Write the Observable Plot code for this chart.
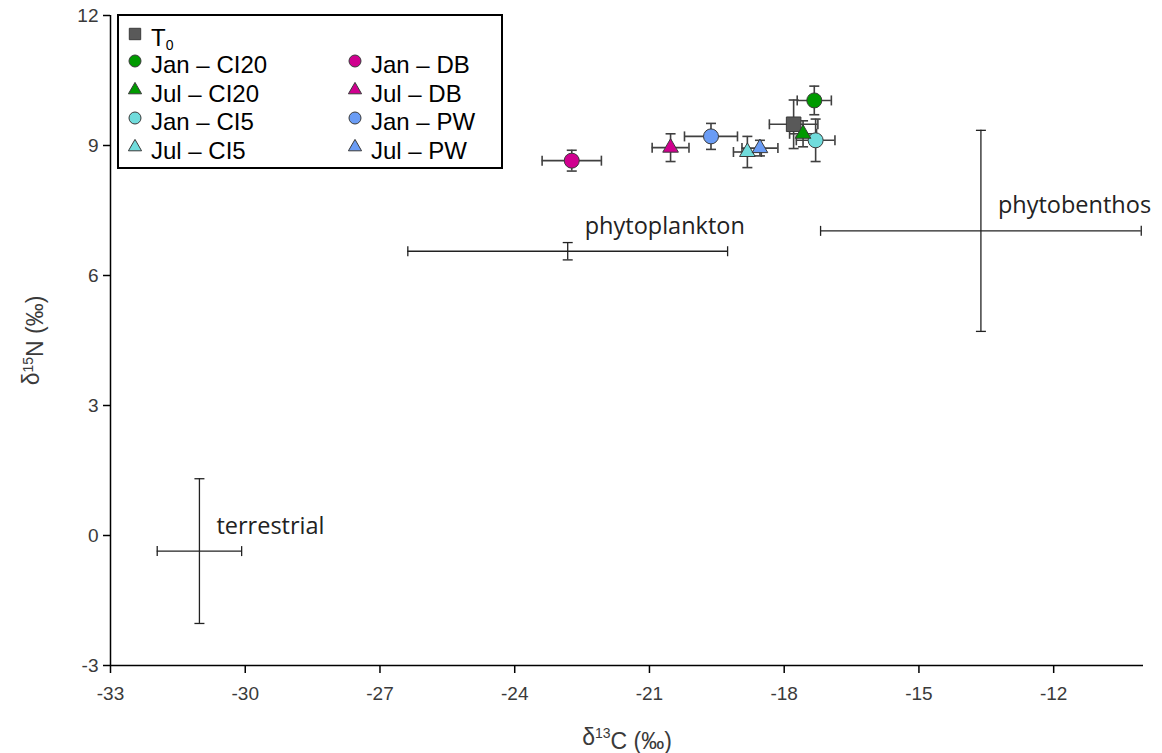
<!DOCTYPE html>
<html><head><meta charset="utf-8">
<script src="https://cdn.jsdelivr.net/npm/d3@7"></script>
<script src="https://cdn.jsdelivr.net/npm/@observablehq/plot@0.6"></script>
<style>
html,body{margin:0;padding:0;background:#fff;}
#wrap{position:relative;width:1162px;height:753px;}
#legend{position:absolute;left:117px;top:14px;}
</style>
</head><body>
<div id="wrap"></div>
<script>
// ---- consumer groups ----
const groups = ["T₀","Jan – CI20","Jul – CI20","Jan – CI5","Jul – CI5","Jan – DB","Jul – DB","Jan – PW","Jul – PW"];
const symbols = ["square","circle","triangle","circle","triangle","circle","triangle","circle","triangle"];
const fills = ["#595959","#009A00","#009A00","#70DCDC","#70DCDC","#D0008F","#D0008F","#6A9CF5","#6A9CF5"];
const d13C = [-17.79,-17.33,-17.58,-17.30,-18.82,-22.73,-20.53,-19.63,-18.54];
const d15N = [9.49,10.04,9.27,9.12,8.85,8.65,8.95,9.21,8.94];
const sdC = [0.54,0.38,0.30,0.43,0.31,0.66,0.41,0.59,0.40];
const sdN = [0.56,0.33,0.30,0.49,0.36,0.24,0.32,0.30,0.18];
// legend layout (column, row)
const legendCol = [0,0,0,0,0,1,1,1,1];
const legendRow = [0,1,2,3,4,1,2,3,4];

// ---- sources ----
const sources = ["terrestrial","phytoplankton","phytobenthos"];
const srcC = [-31.02,-22.82,-13.62];
const srcN = [-0.36,6.56,7.03];
const srcSdC = [0.94,3.56,3.57];
const srcSdN = [1.67,0.20,2.32];

// ---- axes ----
const xDomain = [-33,-10];
const yDomain = [-3,12];
const xTicks = [-33,-30,-27,-24,-21,-18,-15,-12];
const yTicks = [-3,0,3,6,9,12];
const xLabelParts = ["δ","13","C (‰)"];
const yLabelParts = ["δ","15","N (‰)"];

const rows = groups.map((g,i)=>({g, symbol:symbols[i], fill:fills[i], x:d13C[i], y:d15N[i], sx:sdC[i], sy:sdN[i]}));
const srcRows = sources.map((s,i)=>({s, x:srcC[i], y:srcN[i], sx:srcSdC[i], sy:srcSdN[i]}));

const vbar = {draw(ctx){ctx.moveTo(0,-5);ctx.lineTo(0,5);}};
const hbar = {draw(ctx){ctx.moveTo(-5,0);ctx.lineTo(5,0);}};

function errMarks(data, stroke, sw){
  return [
    Plot.ruleY(data,{y:"y",x1:d=>d.x-d.sx,x2:d=>d.x+d.sx,stroke,strokeWidth:sw}),
    Plot.ruleX(data,{x:"x",y1:d=>d.y-d.sy,y2:d=>d.y+d.sy,stroke,strokeWidth:sw}),
    Plot.dot(data,{x:d=>d.x-d.sx,y:"y",symbol:vbar,stroke,strokeWidth:sw,fill:"none"}),
    Plot.dot(data,{x:d=>d.x+d.sx,y:"y",symbol:vbar,stroke,strokeWidth:sw,fill:"none"}),
    Plot.dot(data,{x:"x",y:d=>d.y-d.sy,symbol:hbar,stroke,strokeWidth:sw,fill:"none"}),
    Plot.dot(data,{x:"x",y:d=>d.y+d.sy,symbol:hbar,stroke,strokeWidth:sw,fill:"none"})
  ];
}

const symR = {circle:7.5, square:8.2, triangle:5.8};

const chart = Plot.plot({
  width:1162, height:753,
  marginLeft:110, marginTop:15, marginRight:19, marginBottom:88,
  style:{fontFamily:"Liberation Sans, Arial, sans-serif", fontSize:"18px", color:"#000", background:"#fff"},
  x:{domain:xDomain, ticks:xTicks, tickSize:8, tickPadding:13, tickFormat:d=>String(d), label:xLabelParts.join(""), labelAnchor:"center", labelOffset:79, labelArrow:"none"},
  y:{domain:yDomain, ticks:yTicks, tickSize:7, tickPadding:5, tickFormat:d=>String(d), label:yLabelParts.join(""), labelAnchor:"center", labelOffset:88, labelArrow:"none"},
  color:{type:"identity"},
  marks:[
    Plot.ruleY([yDomain[0]],{stroke:"#000",strokeWidth:1.5}),
    Plot.ruleX([xDomain[0]],{stroke:"#000",strokeWidth:1.5}),
    ...errMarks(srcRows,"#222",1.3),
    Plot.text(srcRows,{x:"x",y:"y",text:"s",textAnchor:"start",dx:17,dy:-25,fontSize:23.5,fontFamily:"Open Sans, sans-serif",fill:"#222"}),
    ...errMarks(rows,"#404040",1.6),
    ...["circle","square","triangle"].map(s=>Plot.dot(rows,{filter:d=>d.symbol===s,x:"x",y:"y",symbol:s,r:symR[s],fill:"fill",stroke:"#3a3a3a",strokeWidth:1,fillOpacity:1}))
  ]
});
const C = d3.select(chart);
C.selectAll("g[aria-label*='axis']").each(function(){
  const g = d3.select(this);
  g.selectAll("text").style("font-size","19px").attr("fill","#3a3a3a");
});
// rebuild axis titles with real superscripts
[["x-axis label",xLabelParts],["y-axis label",yLabelParts]].forEach(([lab,parts])=>{
  C.selectAll(`g[aria-label='${lab}'] text`).each(function(){
    const t = d3.select(this);
    t.text(null).style("font-size","23px");
    t.append("tspan").text(parts[0]);
    t.append("tspan").attr("dy","-0.45em").style("font-size","14px").text(parts[1]);
    t.append("tspan").attr("dy","0.45em").text(parts[2]);
  });
});
C.selectAll("g[aria-label='x-axis tick'], g[aria-label='y-axis tick']").attr("stroke","#000").attr("stroke-width",1.5);
document.getElementById("wrap").appendChild(chart);

// ---- legend ----
const LW=386, LH=155;
const leg = d3.select("#wrap").append("svg").attr("id","legend").attr("width",LW).attr("height",LH);
leg.append("rect").attr("x",1).attr("y",1).attr("width",LW-2).attr("height",LH-2).attr("fill","#fff").attr("stroke","#000").attr("stroke-width",2);
const colX=[18,238], rowY=[20,47,76,104,133];
const legSize={circle:113, square:130, triangle:75};
const d3sym={circle:d3.symbolCircle, square:d3.symbolSquare, triangle:d3.symbolTriangle};
rows.forEach((r,i)=>{
  const cx=colX[legendCol[i]], cy=rowY[legendRow[i]];
  leg.append("path").attr("d",d3.symbol(d3sym[r.symbol],legSize[r.symbol])()).attr("transform",`translate(${cx},${cy})`)
    .attr("fill",r.fill).attr("stroke","#3a3a3a").attr("stroke-width",1);
  const t = leg.append("text").attr("x",cx+16).attr("y",cy+4).attr("dy","0.35em")
    .attr("font-family","Liberation Sans, Arial, sans-serif").attr("font-size",24).attr("fill","#000");
  if (r.g === "T₀") {
    t.append("tspan").text("T");
    t.append("tspan").attr("font-size",14).attr("dy","0.25em").text("0");
  } else t.text(r.g);
});
</script>
</body></html>
